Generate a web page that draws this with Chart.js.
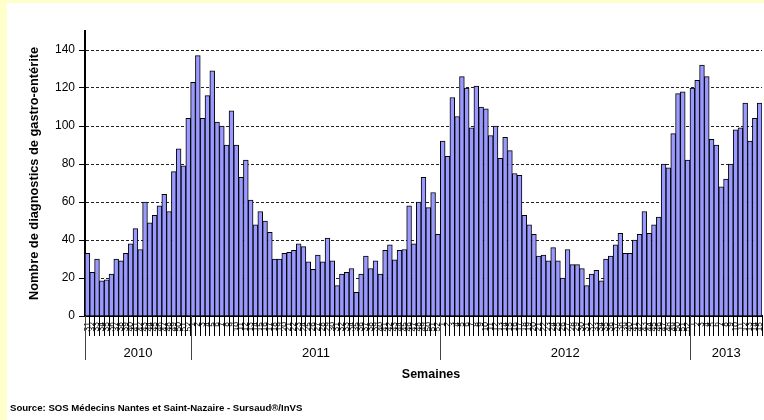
<!DOCTYPE html>
<html lang="fr">
<head>
<meta charset="utf-8">
<title>Diagnostics de gastro-entérite - SOS Médecins Nantes et Saint-Nazaire</title>
<script src="https://cdn.jsdelivr.net/npm/chart.js@4/dist/chart.umd.min.js"></script>
<style>
  html, body { margin: 0; padding: 0; background: #ffffcc; }
  #chart-box { position: relative; width: 764px; height: 420px; }
</style>
</head>
<body>
<div id="chart-box"><canvas id="gastro-chart" width="764" height="420"></canvas></div>
<script>
"use strict";

// Semaines (numéros) par année
const weeks2010 = [31, 32, 33, 34, 35, 36, 37, 38, 39, 40, 41, 42, 43, 44, 45, 46, 47, 48, 49, 50, 51, 52];
const weeks2011 = [1, 2, 3, 4, 5, 6, 7, 8, 9, 10, 11, 12, 13, 14, 15, 16, 17, 18, 19, 20, 21, 22, 23, 24, 25, 26,
  27, 28, 29, 30, 31, 32, 33, 34, 35, 36, 37, 38, 39, 40, 41, 42, 43, 44, 45, 46, 47, 48, 49, 50, 51, 52];
const weeks2012 = [1, 2, 3, 4, 5, 6, 7, 8, 9, 10, 11, 12, 13, 14, 15, 16, 17, 18, 19, 20, 21, 22, 23, 24, 25, 26,
  27, 28, 29, 30, 31, 32, 33, 34, 35, 36, 37, 38, 39, 40, 41, 42, 43, 44, 45, 46, 47, 48, 49, 50, 51, 52];
const weeks2013 = [1, 2, 3, 4, 5, 6, 7, 8, 9, 10, 11, 12, 13, 14, 15];

// Nombre de diagnostics de gastro-entérite par semaine
const cases2010 = [33, 23, 30, 18.5, 19, 22, 30, 29, 33, 38, 46, 35, 60, 49, 53, 58, 64, 55, 76, 88, 79, 104];
const cases2011 = [123, 137, 104, 116, 129, 102, 100, 90, 108, 90, 73, 82, 61, 48, 55, 50, 44, 30, 30, 33, 33.5, 34.5,
  38, 36.5, 28.5, 24.5, 32, 28.5, 41, 29, 16, 22, 23, 25, 12.5, 22, 31.5, 25, 29, 22, 34.5, 37.5,
  29.5, 34.5, 35, 58, 38, 60, 73, 57, 65, 43];
const cases2012 = [92, 84, 115, 105, 126, 120, 99, 121, 110, 109, 95, 100, 83, 94, 87, 75, 74, 53, 48, 43, 31.5, 32,
  29, 36, 29, 20, 35, 27, 27, 25, 16, 22, 24, 18.5, 30, 31.5, 37.5, 43.5, 33, 33, 40, 43,
  55, 43.5, 48, 52, 80, 78, 96, 117, 118, 82];
const cases2013 = [120, 124, 132, 126, 93, 90, 68, 72, 80, 98, 99, 112, 92, 104, 112];

const years = ['2010', '2011', '2012', '2013'];
const yTicks = [0, 20, 40, 60, 80, 100, 120, 140];

const FONT = "'Liberation Sans', Arial, sans-serif";

const weekLabels = [...weeks2010, ...weeks2011, ...weeks2012, ...weeks2013].map(String);
const cases = [...cases2010, ...cases2011, ...cases2012, ...cases2013];
const yearSizes = [weeks2010.length, weeks2011.length, weeks2012.length, weeks2013.length];

// Fond jaune pâle avec cadre blanc
const backgroundPlugin = {
  id: 'background',
  beforeDraw(chart) {
    const ctx = chart.ctx;
    ctx.save();
    ctx.fillStyle = '#ffffcc';
    ctx.fillRect(0, 0, chart.width, chart.height);
    ctx.fillStyle = '#ffffff';
    ctx.fillRect(7, 3, chart.width - 7, chart.height - 3);
    ctx.restore();
  }
};

// Séparateurs et libellés des années, titre de l'axe X, source
const yearAxisPlugin = {
  id: 'yearAxis',
  afterDraw(chart) {
    const ctx = chart.ctx;
    const x = chart.scales.x;
    const area = chart.chartArea;
    const half = (x.getPixelForValue(1) - x.getPixelForValue(0)) / 2;

    ctx.save();
    ctx.strokeStyle = '#444';
    ctx.lineWidth = 1;
    ctx.fillStyle = '#000';
    ctx.font = `13px ${FONT}`;
    ctx.textAlign = 'center';
    ctx.textBaseline = 'middle';

    let start = 0;
    years.forEach((year, i) => {
      const left = Math.round(x.getPixelForValue(start) - half) + 0.5;
      const end = start + yearSizes[i];
      const right = end < cases.length ? x.getPixelForValue(end) - half : area.right;
      ctx.beginPath();
      ctx.moveTo(left, area.bottom);
      ctx.lineTo(left, area.bottom + 44);
      ctx.stroke();
      ctx.fillText(year, (left + right) / 2, area.bottom + 37);
      start = end;
    });

    ctx.font = `bold 12.5px ${FONT}`;
    ctx.fillText('Semaines', 431, area.bottom + 59);

    ctx.textAlign = 'left';
    ctx.font = `bold 9.6px ${FONT}`;
    ctx.fillText('Source: SOS Médecins Nantes et Saint-Nazaire - Sursaud®/InVS', 10, 408);
    ctx.restore();
  }
};

new Chart(document.getElementById('gastro-chart'), {
  type: 'bar',
  data: {
    labels: weekLabels,
    datasets: [{
      label: 'Diagnostics de gastro-entérite',
      data: cases,
      backgroundColor: '#9999ff',
      borderColor: '#000000',
      borderWidth: 1,
      barPercentage: 1,
      categoryPercentage: 1
    }]
  },
  options: {
    responsive: false,
    animation: false,
    layout: { padding: { left: 23, top: 31, right: 2, bottom: 0 } },
    plugins: {
      legend: { display: false },
      tooltip: { enabled: false }
    },
    scales: {
      x: {
        afterFit(scale) { scale.height = 104; },
        grid: {
          offset: true,
          drawOnChartArea: false,
          drawTicks: true,
          tickLength: 20,
          tickColor: '#000',
          tickWidth: 1
        },
        border: { display: true, color: '#000', width: 2 },
        ticks: {
          autoSkip: false,
          minRotation: 90,
          maxRotation: 90,
          padding: -14,
          color: '#000',
          font: { family: FONT, size: 8.5 }
        }
      },
      y: {
        min: 0,
        max: 150,
        bounds: 'data',
        afterFit(scale) { scale.width = 62; },
        afterBuildTicks(scale) {
          scale.ticks = yTicks.map(v => ({ value: v }));
        },
        grid: {
          color: ctx => (ctx.tick && ctx.tick.value === 0 ? 'rgba(0,0,0,0)' : '#222'),
          lineWidth: 1,
          drawTicks: true,
          tickLength: 6,
          tickColor: '#000',
          tickBorderDash: []
        },
        border: { display: true, color: '#000', width: 2, dash: [3, 2] },
        ticks: {
          padding: 4,
          color: '#000',
          font: { family: FONT, size: 12 }
        },
        title: {
          display: true,
          text: 'Nombre de diagnostics de gastro-entérite',
          color: '#000',
          font: { family: FONT, size: 12.8, weight: 'bold' },
          padding: { top: 4, bottom: 4 }
        }
      }
    }
  },
  plugins: [backgroundPlugin, yearAxisPlugin]
});
</script>
</body>
</html>
